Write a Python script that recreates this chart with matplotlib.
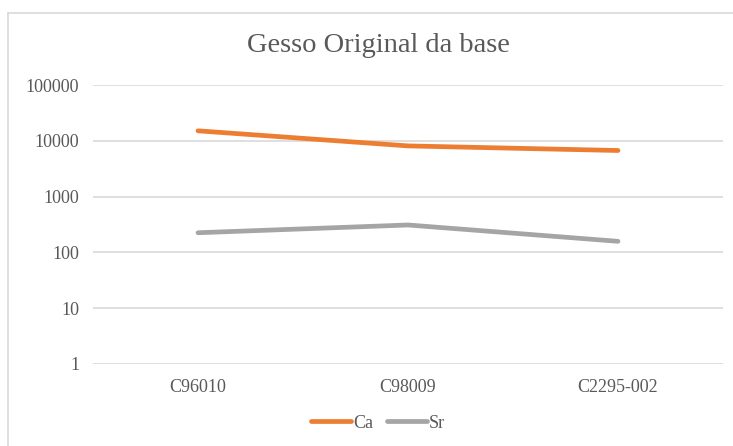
import matplotlib
matplotlib.use("Agg")
from matplotlib import pyplot as plt
from matplotlib.lines import Line2D

plt.rcParams['font.family'] = ['Liberation Serif', 'DejaVu Serif']

# sample identifiers and element concentrations
amostras = ['C96010', 'C98009', 'C2295-002']
ca = [15100, 8100, 6700]
sr = [225, 310, 158]
yticks = [1, 10, 100, 1000, 10000, 100000]

cor_texto = '#595959'
cor_grade = '#d9d9d9'

fig = plt.figure(figsize=(7.33, 4.46), dpi=100)
# moldura da area do grafico (so topo e lado esquerdo aparecem)
x0, y0 = 8 / 733, 1 - 13 / 446
fig.add_artist(Line2D([x0, 1.0], [y0, y0], transform=fig.transFigure,
                      color='#d9d9d9', linewidth=1.2))
fig.add_artist(Line2D([x0, x0], [0.0, y0], transform=fig.transFigure,
                      color='#d9d9d9', linewidth=1.2))

ax = fig.add_axes([93 / 733, 1 - 364 / 446, 630 / 733, 279 / 446])
x = list(range(len(amostras)))
ax.plot(x, ca, color='#ed7d31', linewidth=3.4, solid_capstyle='round', label='Ca', zorder=3)
ax.plot(x, sr, color='#a5a5a5', linewidth=3.4, solid_capstyle='round', label='Sr', zorder=3)

ax.set_yscale('log')
ax.set_ylim(1, 100000)
ax.set_xlim(-0.5, len(amostras) - 0.5)
ax.set_yticks(yticks)
ax.set_yticklabels([str(v) for v in yticks])
ax.minorticks_off()
ax.set_xticks(x)
ax.set_xticklabels(amostras)
ax.tick_params(axis='y', length=0, pad=10, labelsize=13, labelcolor=cor_texto)
ax.tick_params(axis='x', length=0, pad=11, labelsize=13, labelcolor=cor_texto)
ax.grid(axis='y', color=cor_grade, linewidth=1.2)
ax.set_axisbelow(True)
for s in ax.spines.values():
    s.set_visible(False)

fig.text(0.516, 1 - 46 / 446, 'Gesso Original da base', ha='center', va='center',
         fontsize=20.5, color=cor_texto)

fig.legend(loc='center', bbox_to_anchor=(0.516, 1 - 423 / 446), ncol=2, frameon=False,
           fontsize=13, handlelength=2.2, handletextpad=0.1, columnspacing=0.8,
           labelcolor=cor_texto)

fig.savefig('out.png', dpi=100)
